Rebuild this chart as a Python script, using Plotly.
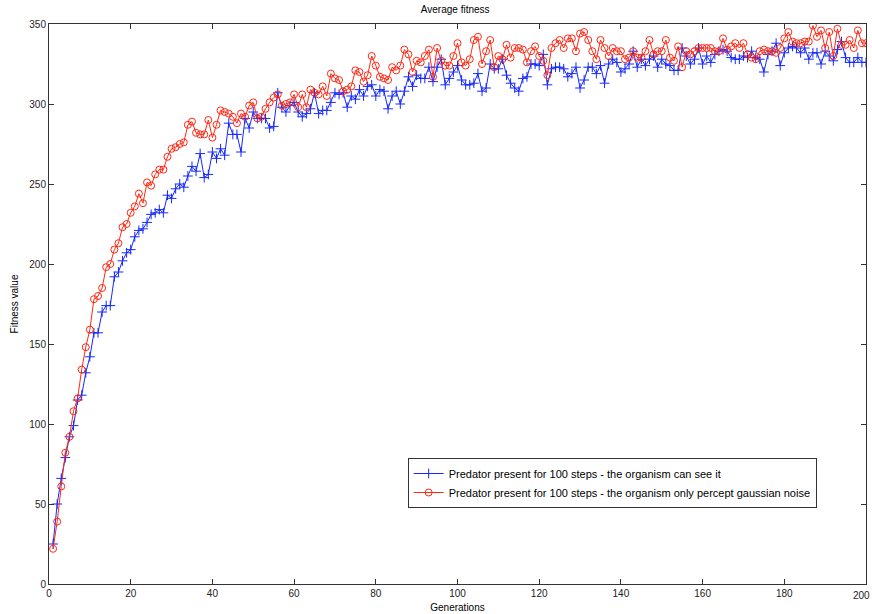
import plotly.graph_objects as go

generations = list(range(1, 201))

fitness_visible = [
    25, 50, 66, 79, 92, 99, 115, 118, 132, 142,
    157, 157, 170, 174, 174, 192, 195, 202, 207, 209,
    217, 221, 222, 226, 231, 232, 234, 232, 243, 241,
    247, 250, 248, 255, 261, 258, 269, 254, 256, 270,
    266, 272, 268, 288, 281, 281, 270, 291, 285, 295,
    291, 291, 291, 285, 286, 307, 298, 295, 299, 301,
    295, 292, 294, 297, 307, 294, 296, 296, 301, 307,
    306, 307, 298, 305, 303, 309, 305, 311, 312, 305,
    309, 308, 297, 305, 308, 300, 308, 317, 311, 318,
    316, 316, 323, 314, 323, 328, 312, 316, 320, 324,
    315, 312, 312, 313, 319, 308, 310, 325, 322, 322,
    328, 318, 313, 310, 308, 316, 317, 325, 325, 324,
    331, 312, 322, 323, 323, 322, 317, 319, 323, 310,
    315, 323, 323, 319, 324, 313, 325, 328, 326, 320,
    322, 325, 333, 323, 328, 324, 328, 330, 323, 328,
    325, 324, 321, 321, 335, 330, 325, 328, 335, 325,
    330, 326, 331, 333, 334, 333, 329, 328, 328, 330,
    329, 333, 329, 328, 320, 331, 333, 338, 324, 332,
    335, 336, 335, 332, 335, 328, 332, 332, 325, 333,
    330, 327, 334, 339, 329, 326, 326, 329, 326, 326,
]

fitness_noise = [
    22, 39, 61, 82, 92, 108, 116, 134, 148, 159,
    178, 180, 185, 198, 200, 209, 213, 223, 225, 232,
    236, 244, 238, 251, 249, 256, 259, 259, 267, 272,
    273, 275, 276, 287, 289, 282, 281, 281, 290, 279,
    287, 296, 295, 294, 292, 288, 294, 292, 299, 301,
    291, 292, 297, 301, 304, 306, 299, 300, 301, 306,
    298, 306, 298, 309, 307, 306, 311, 305, 319, 316,
    315, 308, 309, 311, 321, 320, 314, 318, 330, 324,
    317, 316, 315, 323, 321, 324, 334, 331, 320, 327,
    326, 330, 334, 317, 335, 327, 324, 324, 330, 338,
    326, 324, 328, 340, 342, 325, 333, 340, 323, 330,
    328, 337, 329, 335, 335, 334, 326, 333, 336, 330,
    327, 318, 335, 338, 340, 335, 341, 341, 333, 344,
    345, 340, 333, 328, 340, 335, 330, 335, 333, 333,
    328, 329, 333, 329, 329, 333, 340, 331, 333, 333,
    340, 329, 327, 336, 323, 333, 331, 333, 335, 335,
    335, 335, 333, 333, 341, 334, 336, 338, 335, 338,
    331, 329, 328, 333, 334, 333, 333, 332, 335, 341,
    345, 339, 338, 338, 339, 339, 349, 342, 346, 335,
    345, 330, 347, 337, 337, 340, 335, 346, 338, 338,
]

x_ticks = list(range(0, 201, 20))
y_ticks = list(range(0, 351, 50))

FONT = "Liberation Sans, Arial, Helvetica, sans-serif"
BLUE = "rgb(20,40,255)"
RED = "rgb(255,40,20)"

fig = go.Figure()

fig.add_trace(go.Scatter(
    x=generations, y=fitness_visible,
    mode="lines+markers",
    name="Predator present for 100 steps - the organism can see it",
    line=dict(color=BLUE, width=1),
    marker=dict(symbol="cross-thin", size=7, line=dict(color=BLUE, width=1)),
))

fig.add_trace(go.Scatter(
    x=generations, y=fitness_noise,
    mode="lines+markers",
    name="Predator present for 100 steps - the organism only percept gaussian noise",
    line=dict(color=RED, width=1),
    marker=dict(symbol="circle-open", size=7, line=dict(color=RED, width=1)),
))

axis_common = dict(
    showgrid=False, zeroline=False, automargin=False,
    showline=True, linecolor="#333333", linewidth=1, mirror="allticks",
    ticks="inside", ticklen=5, tickcolor="#333333",
    tickfont=dict(family=FONT, size=10, color="#222222"),
)

# the last x tick label sits at the very edge of the figure, so it is
# placed as an annotation nudged inward instead of a regular tick label
x_labels = [str(v) if v < 200 else "" for v in x_ticks]

fig.update_xaxes(
    range=[0, 200], tickvals=x_ticks, ticktext=x_labels,
    title=dict(text="Generations", font=dict(family=FONT, size=10, color="#000000"),
               standoff=5),
    **axis_common,
)
fig.update_yaxes(
    range=[0, 350], tickvals=y_ticks,
    title=dict(text="Fitness value", font=dict(family=FONT, size=10, color="#000000"),
               standoff=8),
    **axis_common,
)

fig.add_annotation(
    x=200, y=0, xref="x", yref="paper", yanchor="top", xanchor="center",
    yshift=-4, xshift=-5, text=str(x_ticks[-1]), showarrow=False,
    font=dict(family=FONT, size=10, color="#222222"),
)

fig.update_layout(
    width=872, height=614,
    margin=dict(l=49, r=6, t=24, b=30),
    paper_bgcolor="white", plot_bgcolor="white",
    title=dict(text="Average fitness", x=0.522, xanchor="center",
               y=0.99, yanchor="top",
               font=dict(family=FONT, size=10, color="#000000")),
    legend=dict(
        x=0.439, y=0.225, xanchor="left", yanchor="top",
        bgcolor="white", bordercolor="#333333", borderwidth=1,
        font=dict(family=FONT, size=11, color="#000000"),
        tracegroupgap=0,
    ),
    showlegend=True,
)

fig.write_html("out.html")
